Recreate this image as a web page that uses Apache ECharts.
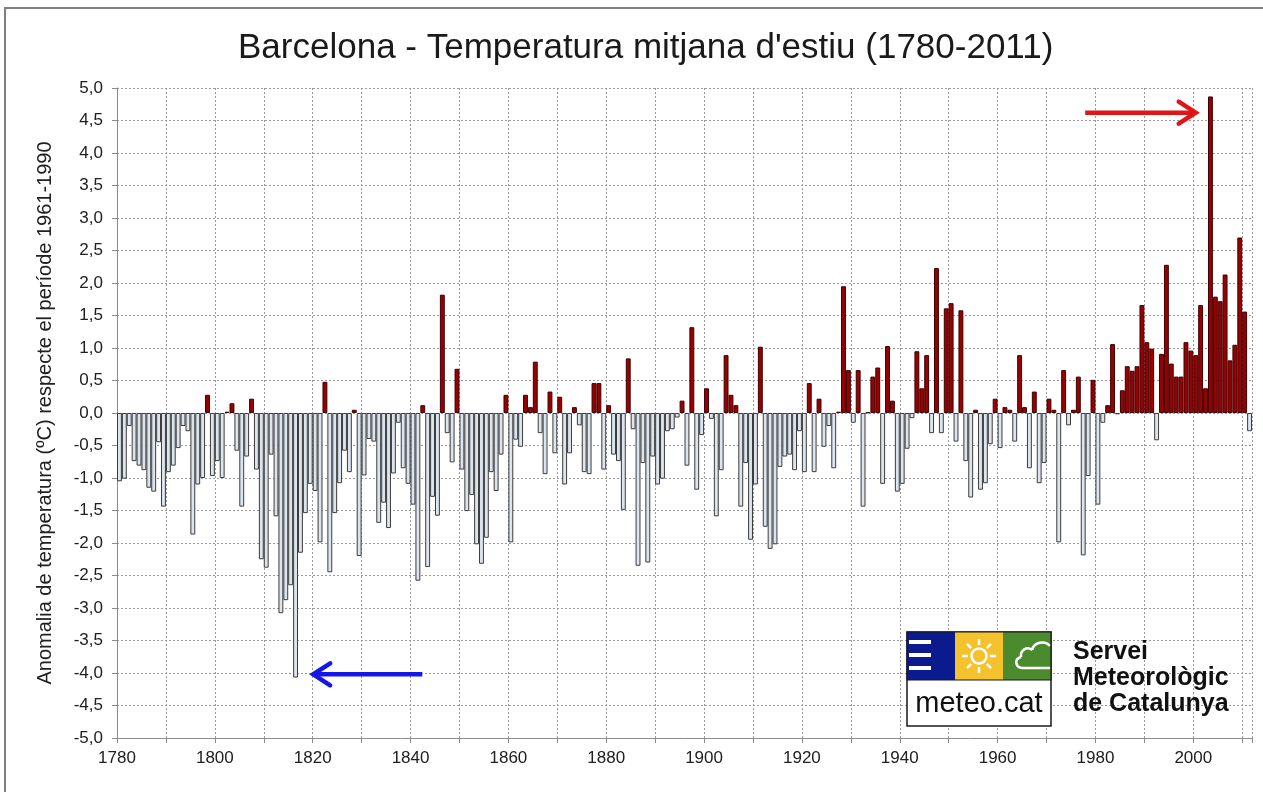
<!DOCTYPE html>
<html><head><meta charset="utf-8">
<script src="https://cdn.jsdelivr.net/npm/echarts@6/dist/echarts.min.js"></script>
<style>html,body{margin:0;padding:0;background:#fff}#c{width:1263px;height:792px}</style>
</head><body><div id="c"></div>
<script>
const startYear = 1780, endYear = 2011;
const years = [];
for (let y = startYear; y <= endYear; y++) years.push(String(y));

// Summer mean temperature anomaly (ºC) vs 1961-1990, 1780..2011
const anomalies = [
 -1.05,-1.01,-0.20,-0.74,-0.81,-0.88,-1.15,-1.21,-0.45,-1.44, // 1780s
 -0.91,-0.81,-0.54,-0.20,-0.28,-1.87,-1.10,-1.00, 0.28,-0.97, // 1790s
 -0.74,-1.00, 0.02, 0.15,-0.58,-1.44,-0.67, 0.22,-0.87,-2.25, // 1800s
 -2.38,-0.64,-1.59,-3.08,-2.88,-2.65,-4.07,-2.15,-1.54,-1.09, // 1810s
 -1.20,-1.99, 0.48,-2.45,-1.54,-1.08,-0.58,-0.91, 0.05,-2.20, // 1820s
 -0.96,-0.40,-0.44,-1.69,-1.38,-1.77,-0.93,-0.15,-0.85,-1.09, // 1830s
 -1.41,-2.58, 0.12,-2.37,-1.29,-1.58, 1.82,-0.31,-0.76, 0.68, // 1840s
 -0.87,-1.51,-1.26,-2.02,-2.32,-1.92,-0.91,-1.20,-0.64, 0.28, // 1850s
 -1.99,-0.41,-0.52, 0.28, 0.09, 0.79,-0.31,-0.94, 0.33,-0.62, // 1860s
  0.25,-1.10,-0.62, 0.09,-0.19,-0.91,-0.94, 0.46, 0.46,-0.87, // 1870s
  0.12,-0.64,-0.74,-1.49, 0.84,-0.25,-2.35,-0.77,-2.30,-0.67, // 1880s
 -1.10,-1.01,-0.28,-0.25,-0.07, 0.19,-0.81, 1.32,-1.18,-0.34, // 1890s
  0.38,-0.09,-1.59,-0.88, 0.89, 0.28, 0.12,-1.44,-0.77,-1.95, // 1900s
 -1.10, 1.02,-1.75,-2.09,-2.02,-0.83,-0.67,-0.64,-0.88,-0.28, // 1910s
 -0.91, 0.46,-0.91, 0.22,-0.52,-0.20,-0.85, 0.02, 1.95, 0.66, // 1920s
 -0.15, 0.66,-1.44, 0.01, 0.56, 0.70,-1.09, 1.03, 0.19,-1.21, // 1930s
 -1.09,-0.55,-0.08, 0.95, 0.38, 0.89,-0.31, 2.23,-0.31, 1.61, // 1940s
  1.69,-0.44, 1.58,-0.74,-1.30, 0.05,-1.18,-1.08,-0.48, 0.22, // 1950s
 -0.54, 0.09, 0.05,-0.44, 0.89, 0.09,-0.85, 0.33,-1.08,-0.77, // 1960s
  0.22, 0.05,-1.99, 0.66,-0.19, 0.05, 0.56,-2.19,-0.97, 0.51, // 1970s
 -1.41,-0.15, 0.12, 1.06,-0.02, 0.35, 0.72, 0.65, 0.72, 1.66, // 1980s
  1.09, 0.99,-0.42, 0.91, 2.28, 0.76, 0.56, 0.56, 1.09, 0.96, // 1990s
  0.89, 1.66, 0.38, 4.87, 1.79, 1.72, 2.13, 0.81, 1.05, 2.70, // 2000s
  1.56,-0.28                                                  // 2010s
];

const titleText = "Barcelona - Temperatura mitjana d'estiu (1780-2011)";
const yAxisName = "Anomalia de temperatura (ºC) respecte el període 1961-1990";
const logoWord = "meteo.cat";
const logoLines = ["Servei", "Meteorològic", "de Catalunya"];
// annotation arrows: [year, value] of tail and tip
const arrowNotes = [
  { from: [1842.4, -4.02], to: [1820.1, -4.02], color: '#1616E8' },
  { from: [1977.9, 4.62], to: [2000.5, 4.62], color: '#E01515' }
];

const POS = '#9A0000', NEG = '#DCE4EE';
const font = "'Liberation Sans', Arial, sans-serif";

const chart = echarts.init(document.getElementById('c'), null, { renderer: 'canvas' });

const barData = anomalies.map(v => ({
  value: v,
  itemStyle: { color: v >= 0 ? POS : NEG, borderColor: v >= 0 ? '#3a0000' : '#3c3c3c', borderWidth: 1 }
}));

const dashed = { show: true, lineStyle: { color: '#9a9a9a', type: [2, 2], width: 1 } };

chart.setOption({
  backgroundColor: '#ffffff',
  animation: false,
  title: {
    text: titleText, left: 233, top: 26,
    textStyle: { fontFamily: font, fontSize: 35, fontWeight: 'normal', color: '#1a1a1a' }
  },
  grid: { left: 117, right: 11, top: 88, bottom: 54, containLabel: false },
  xAxis: [
    { type: 'category', data: years, boundaryGap: true, show: false },
    {
      type: 'value', min: startYear, max: endYear + 1, interval: 10, position: 'bottom',
      axisLine: { show: true, onZero: false, lineStyle: { color: '#8c8c8c', width: 1 } },
      axisTick: { show: true, length: 5, lineStyle: { color: '#8c8c8c' } },
      axisLabel: {
        margin: 12, fontFamily: font, fontSize: 17, color: '#202020',
        formatter: v => (v % 20 === 0 && v <= 2000) ? String(v) : ''
      },
      splitLine: dashed
    }
  ],
  yAxis: {
    type: 'value', min: -5, max: 5, interval: 0.5,
    name: yAxisName, nameLocation: 'middle', nameGap: 62, nameRotate: 90,
    nameTextStyle: { fontFamily: font, fontSize: 20, color: '#202020' },
    axisLine: { show: true, onZero: false, lineStyle: { color: '#8c8c8c', width: 1 } },
    axisTick: { show: true, length: 5, lineStyle: { color: '#8c8c8c' } },
    axisLabel: {
      margin: 14, fontFamily: font, fontSize: 17, color: '#202020',
      formatter: v => v.toFixed(1).replace('.', ',')
    },
    splitLine: dashed
  },
  series: [{
    type: 'bar', xAxisIndex: 0, yAxisIndex: 0,
    data: barData, barCategoryGap: '0%', barGap: '0%'
  }]
});

// Decorative graphics: frame, arrows, logo
const g = [];
g.push({ type: 'rect', shape: { x: 5, y: 8, width: 1262, height: 790 },
  style: { fill: 'none', stroke: '#808080', lineWidth: 2 }, z: 100 });

arrowNotes.forEach(a => {
  const p0 = chart.convertToPixel({ xAxisIndex: 1, yAxisIndex: 0 }, a.from);
  const p1 = chart.convertToPixel({ xAxisIndex: 1, yAxisIndex: 0 }, a.to);
  const dir = Math.sign(p1[0] - p0[0]);
  g.push({ type: 'line', shape: { x1: p0[0], y1: p0[1], x2: p1[0] - dir * 2, y2: p1[1] },
    style: { stroke: a.color, lineWidth: 4.5 }, z: 100 });
  g.push({ type: 'polyline', shape: { points: [[p1[0] - dir * 17, p1[1] - 11], [p1[0], p1[1]], [p1[0] - dir * 17, p1[1] + 11]] },
    style: { stroke: a.color, lineWidth: 4.5, fill: 'none', lineJoin: 'miter', lineCap: 'round' }, z: 100 });
});

// Logo
const lx = 907, ly = 632, sq = 48;
g.push({ type: 'rect', shape: { x: lx, y: ly, width: sq * 3, height: 94 }, style: { fill: '#ffffff', stroke: '#1a1a1a', lineWidth: 1.5 }, z: 100 });
g.push({ type: 'rect', shape: { x: lx, y: ly, width: sq, height: sq }, style: { fill: '#0B1B8E' }, z: 101 });
g.push({ type: 'rect', shape: { x: lx + sq, y: ly, width: sq, height: sq }, style: { fill: '#F3C22C' }, z: 101 });
g.push({ type: 'rect', shape: { x: lx + 2 * sq, y: ly, width: sq, height: sq }, style: { fill: '#4B8B2E' }, z: 101 });
g.push({ type: 'rect', shape: { x: lx, y: ly, width: sq * 3, height: sq }, style: { fill: 'none', stroke: '#1a1a1a', lineWidth: 1.2 }, z: 103 });
[10, 23, 36].forEach(dy => g.push({ type: 'rect', shape: { x: lx + 2, y: ly + dy - 2, width: 22, height: 4 }, style: { fill: '#ffffff' }, z: 102 }));
const scx = lx + sq * 1.5, scy = ly + 24;
g.push({ type: 'circle', shape: { cx: scx, cy: scy, r: 7.5 }, style: { fill: 'none', stroke: '#ffffff', lineWidth: 2.5 }, z: 102 });
for (let k = 0; k < 8; k++) {
  const ang = k * Math.PI / 4;
  g.push({ type: 'line', shape: { x1: scx + Math.cos(ang) * 11, y1: scy + Math.sin(ang) * 11, x2: scx + Math.cos(ang) * 17, y2: scy + Math.sin(ang) * 17 },
    style: { stroke: '#ffffff', lineWidth: 2.5 }, z: 102 });
}
// cloud outline in the green square
const cx0 = lx + 2 * sq, cy0 = ly;
const cloudStyle = { stroke: '#ffffff', lineWidth: 2.5, fill: 'none' };
g.push({ type: 'line', shape: { x1: cx0 + 20, y1: cy0 + 36, x2: cx0 + 47, y2: cy0 + 36 }, style: cloudStyle, z: 102 });
g.push({ type: 'bezierCurve', shape: { x1: cx0 + 20, y1: cy0 + 36, cpx1: cx0 + 12, cpy1: cy0 + 36, cpx2: cx0 + 11, cpy2: cy0 + 27, x2: cx0 + 18, y2: cy0 + 25 }, style: cloudStyle, z: 102 });
g.push({ type: 'bezierCurve', shape: { x1: cx0 + 18, y1: cy0 + 25, cpx1: cx0 + 17, cpy1: cy0 + 18, cpx2: cx0 + 24, cpy2: cy0 + 14, x2: cx0 + 29, y2: cy0 + 18 }, style: cloudStyle, z: 102 });
g.push({ type: 'bezierCurve', shape: { x1: cx0 + 29, y1: cy0 + 18, cpx1: cx0 + 31, cpy1: cy0 + 10, cpx2: cx0 + 42, cpy2: cy0 + 8, x2: cx0 + 47, y2: cy0 + 14 }, style: cloudStyle, z: 102 });

g.push({ type: 'text', x: lx + sq * 1.5, y: ly + 72, style: { text: logoWord, fontFamily: font, fontSize: 29, fill: '#111111', align: 'center', verticalAlign: 'middle' }, z: 102 });
logoLines.forEach((t, i) => g.push({ type: 'text', x: 1073, y: 652 + i * 26,
  style: { text: t, fontFamily: font, fontSize: 25, fontWeight: 'bold', fill: '#111111', align: 'left', verticalAlign: 'middle' }, z: 102 }));

chart.setOption({ graphic: g });
</script>
</body></html>
